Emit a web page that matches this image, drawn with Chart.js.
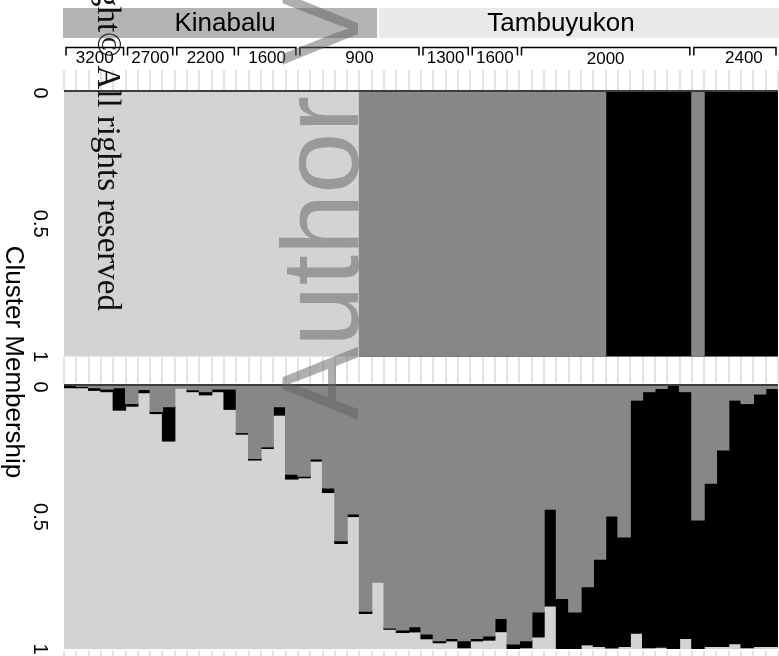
<!DOCTYPE html>
<html>
<head>
<meta charset="utf-8">
<script src="https://cdn.jsdelivr.net/npm/chart.js@4/dist/chart.umd.min.js"></script>
<style>
html,body{margin:0;padding:0;background:#fff;width:779px;height:656px;overflow:hidden;}
canvas{position:absolute;left:0;top:0;}
</style>
</head>
<body>
<canvas id="topPanel" width="779" height="656"></canvas>
<canvas id="bottomPanel" width="779" height="656"></canvas>
<script>
// ---------------- DATA ----------------
const individuals = Array.from({length: 58}, (_, i) => String(i + 1));
const mountains = ['Kinabalu', 'Tambuyukon'];
const popLabels = ['3200', '2700', '2200', '1600', '900', '1300', '1600', '2000', '2400'];
const popSizes  = [5, 4, 5, 5, 10, 4, 4, 14, 7];
const yTickValues = [0, 0.5, 1];
const yTickLabels = ['0', '0.5', '1'];
const axisTitle = 'Cluster Membership';

// top panel (hard assignment)
const topGray  = [0,0,0,0,0,0,0,0,0,0,0,0,0,0,0,0,0,0,0,0,0,0,0,0,
                  1,1,1,1,1,1,1,1,1,1,1,1,1,1,1,1,1,1,1,1,
                  0,0,0,0,0,0,0,1,0,0,0,0,0,0];
const topBlack = [0,0,0,0,0,0,0,0,0,0,0,0,0,0,0,0,0,0,0,0,0,0,0,0,
                  0,0,0,0,0,0,0,0,0,0,0,0,0,0,0,0,0,0,0,0,
                  1,1,1,1,1,1,1,0,1,1,1,1,1,1];
const topLight = [1,1,1,1,1,1,1,1,1,1,1,1,1,1,1,1,1,1,1,1,1,1,1,1,
                  0,0,0,0,0,0,0,0,0,0,0,0,0,0,0,0,0,0,0,0,
                  0,0,0,0,0,0,0,0,0,0,0,0,0,0];

// bottom panel (admixture proportions)
const botGray  = [0.000,0.005,0.010,0.015,0.010,0.070,0.017,0.100,0.082,0.010,
                  0.018,0.025,0.015,0.015,0.180,0.278,0.234,0.082,0.338,0.345,
                  0.280,0.390,0.590,0.488,0.857,0.745,0.920,0.928,0.915,0.943,
                  0.968,0.960,0.968,0.960,0.950,0.884,0.981,0.968,0.859,0.470,
                  0.808,0.859,0.764,0.660,0.496,0.575,0.057,0.025,0.013,0.000,
                  0.025,0.511,0.372,0.246,0.057,0.070,0.034,0.013];
const botBlack = [0.010,0.005,0.010,0.010,0.085,0.010,0.012,0.008,0.130,0.000,
                  0.007,0.012,0.010,0.077,0.006,0.006,0.006,0.032,0.018,0.006,
                  0.008,0.017,0.010,0.010,0.008,0.000,0.005,0.009,0.020,0.018,
                  0.008,0.009,0.027,0.009,0.016,0.050,0.019,0.027,0.095,0.367,
                  0.190,0.140,0.220,0.330,0.500,0.415,0.883,0.970,0.980,1.000,
                  0.935,0.489,0.618,0.744,0.923,0.925,0.956,0.977];
const botLight = [0.990,0.990,0.980,0.975,0.905,0.920,0.971,0.892,0.788,0.990,
                  0.975,0.963,0.975,0.908,0.814,0.716,0.760,0.886,0.644,0.649,
                  0.712,0.593,0.400,0.502,0.135,0.255,0.075,0.063,0.065,0.039,
                  0.024,0.031,0.005,0.031,0.034,0.066,0.000,0.005,0.046,0.163,
                  0.002,0.001,0.016,0.010,0.004,0.010,0.060,0.005,0.007,0.000,
                  0.040,0.000,0.010,0.010,0.020,0.005,0.010,0.010];

// ---------------- STYLE ----------------
const C_GRAY = '#878787', C_BLACK = '#000000', C_LIGHT = '#d3d3d3';
const SANS = '"Liberation Sans", Arial, sans-serif';
const SERIF = '"Liberation Serif", "Times New Roman", serif';

function edgeOf(chart, i) { return chart.scales.x.getPixelForValue(i - 0.5); }

function drawRotated(ctx, text, x, y, angle, font, color, align, baseline) {
  ctx.save();
  ctx.translate(x, y);
  ctx.rotate(angle);
  ctx.font = font;
  ctx.fillStyle = color;
  ctx.textAlign = align || 'center';
  ctx.textBaseline = baseline || 'middle';
  ctx.fillText(text, 0, 0);
  ctx.restore();
}

const panelDecor = {
  id: 'panelDecor',
  afterDatasetsDraw(chart) {
    const ctx = chart.ctx, ca = chart.chartArea, ys = chart.scales.y;
    ctx.save();
    ctx.strokeStyle = '#3c3c3c';
    ctx.lineWidth = 2;
    ctx.beginPath();
    ctx.moveTo(ca.left, ca.top);
    ctx.lineTo(ca.right, ca.top);
    ctx.stroke();
    ctx.restore();
    yTickValues.forEach((v, k) => {
      drawRotated(ctx, yTickLabels[k], 40, ys.getPixelForValue(v) + (k === 0 ? 2 : 0), Math.PI / 2,
        '20px ' + SANS, '#000');
    });
  }
};

const topDecor = {
  id: 'topDecor',
  afterDraw(chart) {
    const ctx = chart.ctx, ca = chart.chartArea;
    const n = individuals.length;
    ctx.save();
    // faint tick stripes at individual boundaries
    ctx.strokeStyle = '#e3e3e3';
    ctx.lineWidth = 2;
    for (let i = 0; i <= n; i++) {
      const x = Math.round(edgeOf(chart, i));
      ctx.beginPath();
      ctx.moveTo(x, 70); ctx.lineTo(x, ca.top - 1);
      ctx.moveTo(x, ca.bottom + 1); ctx.lineTo(x, 383);
      ctx.moveTo(x, 651); ctx.lineTo(x, 656);
      ctx.stroke();
    }
    // mountain header boxes
    const x0 = edgeOf(chart, 0) - 1;
    const split = edgeOf(chart, 25.43);
    ctx.fillStyle = '#b4b4b4';
    ctx.fillRect(x0, 8, split - x0, 30);
    ctx.fillStyle = '#e9e9e9';
    ctx.fillRect(split + 2, 8, 779 - split - 2, 30);
    ctx.fillStyle = '#000';
    ctx.font = '26px ' + SANS;
    ctx.textAlign = 'center';
    ctx.textBaseline = 'middle';
    ctx.fillText(mountains[0], (x0 + split) / 2 + 5, 24);
    ctx.fillText(mountains[1], (split + 779) / 2 - 17, 24);
    // elevation brackets
    ctx.strokeStyle = '#000';
    ctx.lineWidth = 1.5;
    ctx.font = '17px ' + SANS;
    let s = 0;
    popSizes.forEach((sz, k) => {
      const a = edgeOf(chart, s) + 2, b = edgeOf(chart, s + sz) - 2;
      ctx.beginPath();
      ctx.moveTo(a, 55.5); ctx.lineTo(a, 47.5); ctx.lineTo(b, 47.5); ctx.lineTo(b, 55.5);
      ctx.stroke();
      const nudge = (k === popSizes.length - 1) ? 9 : 0;
      ctx.fillText(popLabels[k], (a + b) / 2 + nudge, k === 7 ? 59 : 58);
      s += sz;
    });
    ctx.restore();
  }
};

const bottomDecor = {
  id: 'bottomDecor',
  afterDraw(chart) {
    const ctx = chart.ctx;
    drawRotated(ctx, axisTitle, 13, 362, Math.PI / 2, '26px ' + SANS, '#000');
    // copyright notice
    drawRotated(ctx, 'Copyright\u00A9 All rights reserved', 98, 311, Math.PI / 2,
      '33px ' + SERIF, '#111', 'right', 'alphabetic');
    // watermark
    drawRotated(ctx, 'Author Version', 358, 420, -Math.PI / 2,
      '110px ' + SANS, 'rgba(95,95,95,0.5)', 'left', 'alphabetic');
  }
};

function makePanel(id, gray, black, light, padTop, padBottom, extra) {
  return new Chart(document.getElementById(id), {
    type: 'bar',
    data: {
      labels: individuals,
      datasets: [
        {label: 'Cluster 2', data: gray,  backgroundColor: C_GRAY},
        {label: 'Cluster 3', data: black, backgroundColor: C_BLACK},
        {label: 'Cluster 1', data: light, backgroundColor: C_LIGHT}
      ]
    },
    options: {
      responsive: false,
      animation: false,
      devicePixelRatio: 1,
      layout: {padding: {left: 64, right: 1, top: padTop, bottom: padBottom}},
      plugins: {legend: {display: false}, tooltip: {enabled: false}},
      datasets: {bar: {categoryPercentage: 1, barPercentage: 1, borderWidth: 0, inflateAmount: 0.6}},
      scales: {
        x: {stacked: true, display: false},
        y: {stacked: true, display: false, min: 0, max: 1, reverse: true}
      }
    },
    plugins: [panelDecor].concat(extra)
  });
}

makePanel('topPanel', topGray, topBlack, topLight, 91, 656 - 356.5, [topDecor]);
makePanel('bottomPanel', botGray, botBlack, botLight, 385, 656 - 649, [bottomDecor]);
</script>
</body>
</html>
